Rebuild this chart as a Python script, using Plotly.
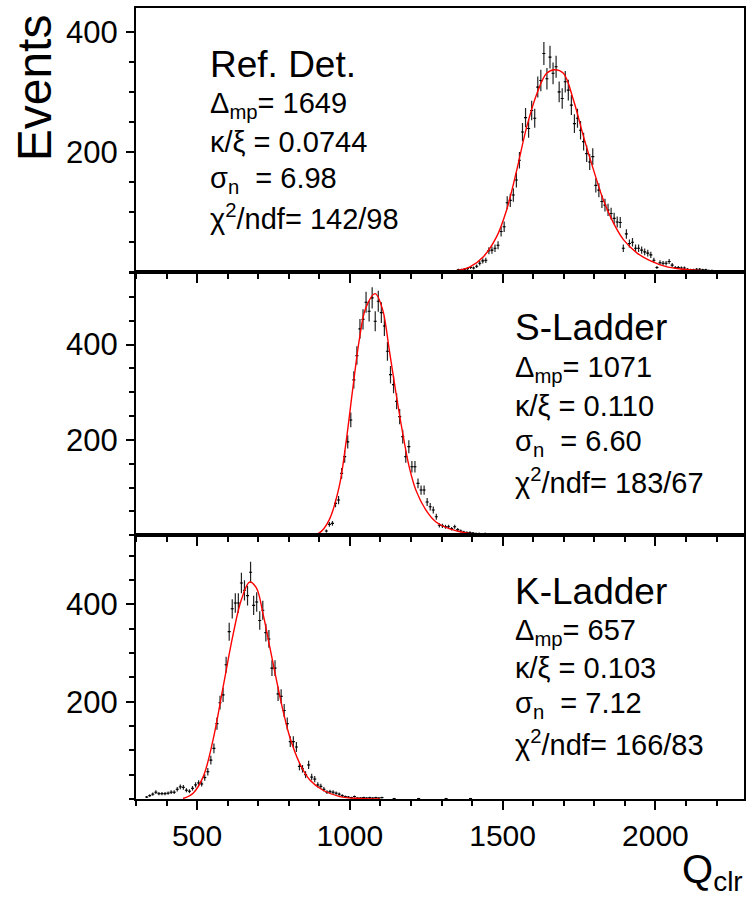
import numpy as np
import plotly.graph_objects as go

# ---------------- data ----------------
# Reference detector: cluster charge histogram (10-unit bins)
ref_lo, ref_bin = 1355, 10
ref_counts = [3, 3, 4, 5, 7, 6, 9, 14, 18, 19,
              35, 36, 39, 44, 67, 75, 115, 119, 128, 153,
              186, 233, 257, 239, 269, 256, 308, 319, 364, 322,
              358, 331, 342, 300, 289, 317, 303, 278, 247, 256,
              236, 217, 197, 183, 192, 144, 136, 117, 111, 103,
              97, 89, 83, 82, 39, 63, 47, 49, 39, 39,
              36, 33, 31, 28, 19, 7, 15, 14, 14, 17,
              11, 7, 7, 6, 6, 4, 3, 3, 4, 4,
              3, 3, 2, 2]
ref_fit_q = [1340, 1393, 1437, 1480, 1513, 1546, 1579, 1612, 1644, 1670,
             1699, 1732, 1765, 1798, 1830, 1863, 1896, 1940, 1984, 2038,
             2093, 2191]
ref_fit_n = [1, 8, 25, 58, 103, 169, 242, 297, 331, 337,
             331, 286, 225, 169, 119, 81, 53, 31, 18, 8,
             4, 0.5]

# S-Ladder
s_lo, s_bin = 913, 10
s_counts = [3, 9, 23, 25, 67, 74, 130, 165, 196, 242,
            326, 377, 433, 453, 489, 470, 498, 449, 491, 467,
            439, 386, 337, 316, 281, 249, 207, 165, 186, 144,
            144, 109, 95, 95, 70, 60, 53, 39, 21, 20,
            18, 18, 14, 18, 12, 9, 7, 6, 6, 5,
            4, 4, 3, 4, 2, 2, 2, 2]
s_fit_q = [860, 900, 932, 965, 987, 1009, 1031, 1052, 1083, 1107,
           1129, 1151, 1173, 1194, 1216, 1249, 1282, 1325, 1380, 1446,
           1511]
s_fit_n = [0, 5, 32, 102, 193, 305, 411, 477, 507, 474,
           389, 298, 214, 144, 95, 53, 28, 14, 5, 1.4,
           0]

# K-Ladder
k_lo, k_bin = 335, 10
k_counts = [4, 7, 10, 14, 11, 11, 11, 12, 14, 14,
            20, 25, 24, 18, 16, 22, 29, 33, 31, 44,
            56, 80, 104, 155, 198, 214, 276, 344, 391, 403,
            403, 444, 429, 418, 466, 398, 405, 367, 388, 342,
            329, 269, 269, 216, 211, 182, 155, 118, 118, 107,
            67, 62, 50, 70, 45, 41, 29, 26, 20, 14,
            15, 14, 12, 10, 7, 5, 4, 3, 5, 2,
            2, 3, 2, 3, 2, 3, 2, 3, 0, 0,
            0, 1, 0, 0, 0, 0, 0, 0, 0, 1,
            0, 0, 0, 0, 0, 0, 0, 0, 1, 0,
            0, 0, 0, 0, 0, 0, 1]
k_fit_q = [454, 487, 520, 552, 585, 618, 645, 672, 694, 716,
           738, 760, 781, 803, 836, 869, 912, 967, 1032, 1098]
k_fit_n = [1, 12, 46, 121, 230, 339, 410, 446, 434, 380,
           312, 244, 182, 128, 73, 39, 18, 5, 1, 0]

panels = [
    dict(name="Ref. Det.", lo=ref_lo, width=ref_bin, counts=ref_counts,
         fq=ref_fit_q, fn=ref_fit_n, ymax=440,
         lines=["Δ<sub>mp</sub>= 1649", "κ/ξ = 0.0744",
                "σ<sub>n</sub>  = 6.98", "χ<sup>2</sup>/ndf= 142/98"]),
    dict(name="S-Ladder", lo=s_lo, width=s_bin, counts=s_counts,
         fq=s_fit_q, fn=s_fit_n, ymax=553,
         lines=["Δ<sub>mp</sub>= 1071", "κ/ξ = 0.110",
                "σ<sub>n</sub>  = 6.60", "χ<sup>2</sup>/ndf= 183/67"]),
    dict(name="K-Ladder", lo=k_lo, width=k_bin, counts=k_counts,
         fq=k_fit_q, fn=k_fit_n, ymax=542,
         lines=["Δ<sub>mp</sub>= 657", "κ/ξ = 0.103",
                "σ<sub>n</sub>  = 7.12", "χ<sup>2</sup>/ndf= 166/83"]),
]

# ---------------- figure ----------------
W, H = 748, 898
ML, MR, MT, MB = 136, 2, 8, 99
FONT = "Liberation Sans, Arial, sans-serif"

fig = go.Figure()
domains = [[2/3, 1.0], [1/3, 2/3], [0.0, 1/3]]

for i, p in enumerate(panels):
    ax = "" if i == 0 else str(i + 1)
    counts = np.array(p["counts"], dtype=float)
    centers = p["lo"] + p["width"] * np.arange(len(counts))
    keep = counts > 0
    fig.add_trace(go.Scatter(
        x=centers[keep], y=counts[keep], mode="markers",
        marker=dict(size=1, color="black"),
        error_y=dict(type="data", array=np.sqrt(counts[keep]), width=0,
                     thickness=1.2, color="#222222"),
        error_x=dict(type="constant", value=p["width"] / 2, width=0,
                     thickness=1.1, color="black"),
        xaxis="x" + ax, yaxis="y" + ax, showlegend=False))
    fig.add_trace(go.Scatter(
        x=p["fq"], y=p["fn"], mode="lines",
        line=dict(color="#ff0000", width=1.4, shape="spline", smoothing=1.0),
        xaxis="x" + ax, yaxis="y" + ax, showlegend=False))

    xkey = "xaxis" + ax
    ykey = "yaxis" + ax
    fig.layout[xkey] = dict(
        domain=[0, 1], anchor="y" + ax, range=[300, 2290],
        tickmode="array", tickvals=[500, 1000, 1500, 2000],
        showticklabels=(i == 2), ticks="outside", ticklen=9, tickwidth=1.5,
        tickcolor="black",
        minor=dict(tickmode="linear", tick0=0, dtick=100, ticks="outside",
                   ticklen=5, tickwidth=1.5, tickcolor="black"),
        showline=True, linecolor="black", linewidth=2, mirror=True,
        showgrid=False, zeroline=False,
        tickfont=dict(family=FONT, size=30, color="black"),
        **({} if i == 0 else dict(matches="x")))
    fig.layout[ykey] = dict(
        domain=domains[i], anchor="x" + ax, range=[0, p["ymax"]],
        tickmode="array", tickvals=[200, 400],
        ticks="outside", ticklen=8, tickwidth=1.5, tickcolor="black",
        minor=dict(tickmode="linear", tick0=0, dtick=50, ticks="outside",
                   ticklen=5, tickwidth=1.5, tickcolor="black"),
        showline=True, linecolor="black", linewidth=2, mirror=True,
        showgrid=False, zeroline=False, ticklabelstandoff=2,
        tickfont=dict(family=FONT, size=31, color="black"))

# text blocks inside each panel (pixel positions -> paper coordinates)
plot_w = W - ML - MR
plot_h = H - MT - MB


def px(x):
    return (x - ML) / plot_w


def py(y):
    return (H - MB - y) / plot_h


text_layout = [
    dict(x=208, title=64, rows=[105, 142, 180, 217]),
    dict(x=514, title=327, rows=[369, 406, 443, 481]),
    dict(x=514, title=591, rows=[632, 668, 705, 743]),
]

for p, t in zip(panels, text_layout):
    fig.add_annotation(xref="paper", yref="paper", x=px(t["x"]), y=py(t["title"]),
                       text=p["name"], showarrow=False, xanchor="left",
                       yanchor="middle",
                       font=dict(family=FONT, size=37, color="black"))
    for line, yy in zip(p["lines"], t["rows"]):
        fig.add_annotation(xref="paper", yref="paper", x=px(t["x"]), y=py(yy),
                           text=line, showarrow=False, xanchor="left",
                           yanchor="middle",
                           font=dict(family=FONT, size=29, color="black"))

# axis titles
fig.add_annotation(xref="paper", yref="paper", x=px(35), y=py(88),
                   text="Events", textangle=-90, showarrow=False,
                   xanchor="center", yanchor="middle",
                   font=dict(family=FONT, size=48, color="black"))
fig.add_annotation(xref="paper", yref="paper", x=px(746), y=py(898),
                   text="Q<sub>clr</sub>", showarrow=False,
                   xanchor="right", yanchor="bottom", borderpad=0,
                   font=dict(family=FONT, size=40, color="black"))

fig.update_layout(width=W, height=H, margin=dict(l=ML, r=MR, t=MT, b=MB),
                  paper_bgcolor="white", plot_bgcolor="white",
                  font=dict(family=FONT, color="black"))

fig.write_html("out.html")
